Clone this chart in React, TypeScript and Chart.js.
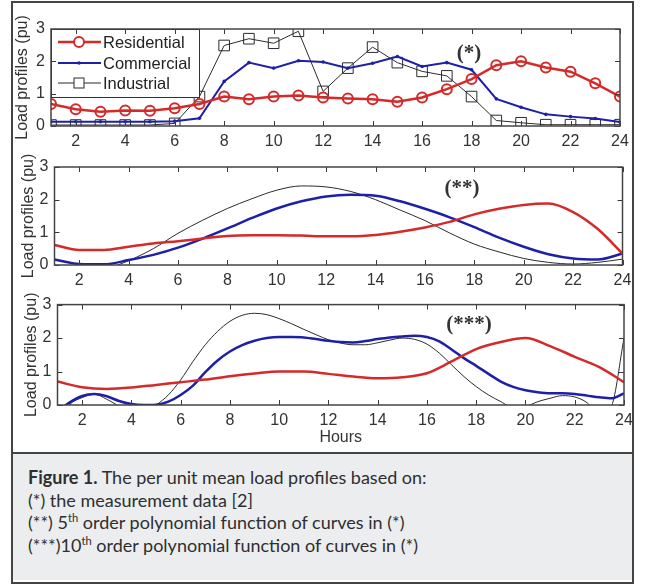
import React, { useEffect, useRef } from "react";
import { Chart, registerables } from "chart.js";

Chart.register(...registerables);

// ---------- data ----------
const HOURS = [1, 2, 3, 4, 5, 6, 7, 8, 9, 10, 11, 12, 13, 14, 15, 16, 17, 18, 19, 20, 21, 22, 23, 24];
const HALF_HOURS = [
  1, 1.5, 2, 2.5, 3, 3.5, 4, 4.5, 5, 5.5, 6, 6.5, 7, 7.5, 8, 8.5, 9, 9.5, 10, 10.5, 11, 11.5, 12, 12.5,
  13, 13.5, 14, 14.5, 15, 15.5, 16, 16.5, 17, 17.5, 18, 18.5, 19, 19.5, 20, 20.5, 21, 21.5, 22, 22.5, 23, 23.5, 24,
];
const X_TICKS = [2, 4, 6, 8, 10, 12, 14, 16, 18, 20, 22, 24];
const Y_TICKS = [0, 1, 2, 3];
const SERIES_NAMES = ["Residential", "Commercial", "Industrial"];
const PANEL_TAGS = ["(*)", "(**)", "(***)"];
const Y_TITLE = "Load profiles (pu)";
const X_TITLE = "Hours";

// (*) measurement data
const RES_MEAS = [0.68, 0.52, 0.44, 0.48, 0.47, 0.55, 0.68, 0.91, 0.83, 0.91, 0.94, 0.88, 0.85, 0.83, 0.75, 0.88, 1.14, 1.45, 1.88, 2.0, 1.81, 1.68, 1.32, 0.91];
const COM_MEAS = [0.13, 0.13, 0.13, 0.13, 0.13, 0.15, 0.24, 1.38, 1.96, 1.79, 2.02, 1.98, 1.79, 1.94, 2.15, 1.84, 1.96, 1.74, 0.84, 0.58, 0.36, 0.29, 0.23, 0.12];
const IND_MEAS = [0.03, 0.03, 0.03, 0.03, 0.03, 0.08, 0.91, 2.49, 2.7, 2.56, 2.93, 1.07, 1.79, 2.44, 1.96, 1.69, 1.55, 0.91, 0.17, 0.1, 0.04, 0.04, 0.04, 0.04];

// (**) 5th order polynomial fit
const RES_P5 = [0.61, 0.46, 0.46, 0.56, 0.66, 0.73, 0.81, 0.89, 0.91, 0.91, 0.9, 0.88, 0.88, 0.92, 1.02, 1.15, 1.32, 1.55, 1.72, 1.84, 1.88, 1.62, 1.1, 0.35];
const COM_P5 = [0.17, 0.03, 0.02, 0.15, 0.31, 0.53, 0.81, 1.12, 1.44, 1.73, 1.95, 2.1, 2.15, 2.12, 1.95, 1.72, 1.46, 1.16, 0.84, 0.56, 0.33, 0.2, 0.17, 0.35];
const IND_P5 = [-0.3, -0.35, -0.15, 0.13, 0.5, 0.97, 1.37, 1.73, 2.03, 2.29, 2.42, 2.39, 2.25, 2.0, 1.68, 1.36, 0.98, 0.64, 0.4, 0.2, 0.08, 0.03, 0.08, 0.18];

// (***) 10th order polynomial fit
const RES_P10 = [0.7, 0.53, 0.48, 0.52, 0.6, 0.68, 0.76, 0.86, 0.94, 1.0, 1.0, 0.93, 0.85, 0.8, 0.83, 0.95, 1.3, 1.67, 1.88, 2.0, 1.76, 1.44, 1.13, 0.68];
const COM_P10 = [
  -0.2, 0.08, 0.27, 0.33, 0.26, 0.12, 0.03, 0.0, 0.01, 0.1, 0.3, 0.58, 0.98, 1.33, 1.6, 1.79, 1.92, 2.0, 2.03, 2.03, 2.02, 1.97, 1.92, 1.88,
  1.87, 1.91, 1.97, 2.02, 2.05, 2.07, 2.03, 1.9, 1.66, 1.4, 1.17, 0.93, 0.7, 0.54, 0.44, 0.38, 0.35, 0.35, 0.33, 0.28, 0.23, 0.2, 0.35,
];
const IND_P10 = [
  -0.5, 0.02, 0.22, 0.32, 0.17, -0.05, -0.4, -0.4, -0.02, 0.3, 0.75, 1.3, 1.8, 2.2, 2.5, 2.68, 2.74, 2.7, 2.58, 2.43, 2.26, 2.1, 1.95, 1.85,
  1.8, 1.8, 1.86, 1.94, 2.0, 1.96, 1.82, 1.55, 1.2, 0.85, 0.55, 0.3, 0.1, -0.08, -0.05, 0.1, 0.2, 0.28, 0.24, 0.07, -0.3, -0.02, 2.0,
];

// ---------- styles ----------
const RED = "#d42a2a";
const BLUE = "#1f1fa8";
const BLACK = "#2b2b2b";
const AX_FONT = "Arial, 'Liberation Sans', sans-serif";
const TEXT_COLOR = "#333";

const pts = (xs: number[], ys: number[]) => xs.map((x, i) => ({ x, y: ys[i] }));

const framePlugin = {
  id: "matlabFrame",
  afterDatasetsDraw(chart: any) {
    const { ctx, chartArea, scales } = chart;
    const { left, right, top, bottom } = chartArea;
    const x = scales.x;
    const y = scales.y;
    ctx.save();
    ctx.strokeStyle = "#3a3a3a";
    ctx.lineWidth = 1;
    ctx.beginPath();
    X_TICKS.forEach((v) => {
      const px = Math.round(x.getPixelForValue(v)) + 0.5;
      ctx.moveTo(px, bottom);
      ctx.lineTo(px, bottom - 5);
      ctx.moveTo(px, top);
      ctx.lineTo(px, top + 5);
    });
    Y_TICKS.forEach((v) => {
      const py = Math.round(y.getPixelForValue(v)) + 0.5;
      ctx.moveTo(left, py);
      ctx.lineTo(left + 5, py);
      ctx.moveTo(right, py);
      ctx.lineTo(right - 5, py);
    });
    ctx.stroke();
    ctx.lineWidth = 1.5;
    ctx.strokeStyle = "#444";
    ctx.strokeRect(left, top, right - left, bottom - top);
    ctx.restore();
  },
};

const legendPlugin = {
  id: "boxLegend",
  afterDatasetsDraw(chart: any) {
    const { ctx, chartArea } = chart;
    const bx = chartArea.left;
    const by = chartArea.top;
    const bw = 148;
    const bh = 68;
    ctx.save();
    ctx.fillStyle = "#fff";
    ctx.fillRect(bx, by, bw, bh);
    ctx.strokeStyle = "#333";
    ctx.lineWidth = 1;
    ctx.strokeRect(bx + 0.5, by + 0.5, bw, bh);
    const rows = [13, 34, 54];
    chart.data.datasets.forEach((ds: any, i: number) => {
      const ry = by + rows[i];
      ctx.strokeStyle = ds.borderColor;
      ctx.lineWidth = ds.borderWidth;
      ctx.beginPath();
      ctx.moveTo(bx + 7, ry);
      ctx.lineTo(bx + 50, ry);
      ctx.stroke();
      const mx = bx + 28;
      if (i === 0) {
        ctx.lineWidth = 2;
        ctx.beginPath();
        ctx.arc(mx, ry, 5, 0, Math.PI * 2);
        ctx.fillStyle = "#fff";
        ctx.fill();
        ctx.stroke();
      } else if (i === 1) {
        ctx.fillStyle = ds.borderColor;
        ctx.beginPath();
        ctx.arc(mx, ry, 1.8, 0, Math.PI * 2);
        ctx.fill();
      } else {
        ctx.lineWidth = 1;
        ctx.fillStyle = "#fff";
        ctx.fillRect(mx - 5, ry - 5, 10, 10);
        ctx.strokeRect(mx - 5, ry - 5, 10, 10);
      }
      ctx.fillStyle = "#222";
      ctx.font = `16.5px ${AX_FONT}`;
      ctx.textBaseline = "middle";
      ctx.textAlign = "left";
      ctx.fillText(ds.label, bx + 52, ry + 1);
    });
    ctx.restore();
  },
};

type Rect = { x: number; y: number; w: number; h: number };
type Area = { l: number; t: number; r: number; b: number };

function buildConfig(rect: Rect, area: Area, datasets: any[], opts: { legend: boolean; xTitle: boolean; yTitlePad: number }) {
  const padTop = area.t - rect.y;
  const padRight = rect.x + rect.w - area.r;
  const yWidth = area.l - rect.x;
  const xHeight = rect.y + rect.h - area.b;
  return {
    type: "line",
    data: { datasets },
    options: {
      responsive: false,
      animation: false,
      devicePixelRatio: 1,
      layout: { padding: { top: padTop, right: padRight, left: 0, bottom: 0 } },
      plugins: { legend: { display: false }, tooltip: { enabled: false } },
      scales: {
        x: {
          type: "linear",
          min: 1,
          max: 24,
          grid: { display: false, drawTicks: false },
          border: { display: false },
          afterBuildTicks: (s: any) => {
            s.ticks = X_TICKS.map((v) => ({ value: v }));
          },
          afterFit: (s: any) => {
            s.height = xHeight;
          },
          ticks: { font: { family: AX_FONT, size: 16 }, color: TEXT_COLOR, padding: 6, maxRotation: 0, autoSkip: false },
          title: {
            display: opts.xTitle,
            text: X_TITLE,
            font: { family: AX_FONT, size: 16 },
            color: TEXT_COLOR,
            padding: { top: 0, bottom: 5 },
          },
        },
        y: {
          type: "linear",
          min: 0,
          max: 3,
          grid: { display: false, drawTicks: false },
          border: { display: false },
          afterBuildTicks: (s: any) => {
            s.ticks = Y_TICKS.map((v) => ({ value: v }));
          },
          afterFit: (s: any) => {
            s.width = yWidth;
          },
          ticks: { font: { family: AX_FONT, size: 16 }, color: TEXT_COLOR, padding: 6 },
          title: {
            display: true,
            text: Y_TITLE,
            font: { family: AX_FONT, size: 16 },
            color: TEXT_COLOR,
            padding: { top: opts.yTitlePad, bottom: 0 },
          },
        },
      },
    },
    plugins: opts.legend ? [legendPlugin, framePlugin] : [framePlugin],
  };
}

const smooth = (label: string, data: any[], color: string, width: number) => ({
  label,
  data,
  borderColor: color,
  borderWidth: width,
  pointRadius: 0,
  cubicInterpolationMode: "monotone",
  fill: false,
});

const PANELS = [
  {
    rect: { x: 13, y: 3, w: 627, h: 148 },
    area: { l: 51, t: 29, r: 620, b: 126 },
    opts: { legend: true, xTitle: false, yTitlePad: 0 },
    tag: { x: 469, y: 52 },
    datasets: () => [
      {
        label: SERIES_NAMES[0],
        data: pts(HOURS, RES_MEAS),
        borderColor: RED,
        borderWidth: 2.5,
        pointStyle: "circle",
        pointRadius: 5,
        pointBorderWidth: 2,
        pointBorderColor: RED,
        pointBackgroundColor: "rgba(255,255,255,0)",
        tension: 0,
      },
      {
        label: SERIES_NAMES[1],
        data: pts(HOURS, COM_MEAS),
        borderColor: BLUE,
        borderWidth: 2,
        pointStyle: "circle",
        pointRadius: 1.8,
        pointBorderWidth: 0,
        pointBackgroundColor: BLUE,
        tension: 0,
      },
      {
        label: SERIES_NAMES[2],
        data: pts(HOURS, IND_MEAS),
        borderColor: BLACK,
        borderWidth: 1,
        pointStyle: "rect",
        pointRadius: 7.5,
        pointBorderWidth: 1,
        pointBorderColor: BLACK,
        pointBackgroundColor: "rgba(255,255,255,0)",
        tension: 0,
      },
    ],
  },
  {
    rect: { x: 13, y: 151, w: 627, h: 138 },
    area: { l: 54.5, t: 167, r: 622.5, b: 265 },
    opts: { legend: false, xTitle: false, yTitlePad: 6 },
    tag: { x: 462, y: 187 },
    datasets: () => [
      smooth(SERIES_NAMES[0], pts(HOURS, RES_P5), RED, 2.5),
      smooth(SERIES_NAMES[1], pts(HOURS, COM_P5), BLUE, 2.5),
      smooth(SERIES_NAMES[2], pts(HOURS, IND_P5), BLACK, 1),
    ],
  },
  {
    rect: { x: 13, y: 289, w: 627, h: 163 },
    area: { l: 57.5, t: 304, r: 624, b: 405 },
    opts: { legend: false, xTitle: true, yTitlePad: 9 },
    tag: { x: 469, y: 323 },
    datasets: () => [
      smooth(SERIES_NAMES[0], pts(HOURS, RES_P10), RED, 2.5),
      smooth(SERIES_NAMES[1], pts(HALF_HOURS, COM_P10), BLUE, 2.5),
      smooth(SERIES_NAMES[2], pts(HALF_HOURS, IND_P10), BLACK, 1),
    ],
  },
];

function PanelChart({ index }: { index: number }) {
  const ref = useRef<HTMLCanvasElement | null>(null);
  const p = PANELS[index];
  useEffect(() => {
    if (!ref.current) return;
    const chart = new Chart(ref.current, buildConfig(p.rect, p.area, p.datasets(), p.opts) as any);
    return () => chart.destroy();
  }, []);
  return (
    <>
      <canvas
        ref={ref}
        width={p.rect.w}
        height={p.rect.h}
        style={{ position: "absolute", left: p.rect.x, top: p.rect.y, width: p.rect.w, height: p.rect.h }}
      />
      <span
        style={{
          position: "absolute",
          left: p.tag.x,
          top: p.tag.y,
          transform: "translate(-50%, -50%)",
          fontFamily: "'Liberation Serif', 'Times New Roman', serif",
          fontSize: 21,
          fontWeight: "bold",
          color: "#333",
          whiteSpace: "nowrap",
          lineHeight: 1,
        }}
      >
        {PANEL_TAGS[index]}
      </span>
    </>
  );
}

export default function App() {
  const supStyle: React.CSSProperties = { fontSize: "0.62em", verticalAlign: "super", lineHeight: 0 };
  return (
    <div style={{ position: "absolute", left: 0, top: 0, width: 645, height: 585, background: "#fff", overflow: "hidden" }}>
      <div
        style={{
          position: "absolute",
          left: 11,
          top: 1,
          width: 623,
          height: 583,
          border: "2px solid #444",
          boxSizing: "border-box",
          background: "#fff",
        }}
      />
      <div
        style={{
          position: "absolute",
          left: 13,
          top: 454,
          width: 619,
          height: 128,
          background: "#ebedef",
          borderTop: "2px solid #444",
          marginTop: -2,
          boxSizing: "border-box",
          paddingLeft: 15,
          paddingTop: 12,
          fontFamily: "Lato, 'Open Sans', sans-serif",
          fontSize: 18,
          lineHeight: "22.7px",
          color: "#2f2f2f",
        }}
      >
        <div>
          <b>Figure 1.</b> The per unit mean load profiles based on:
        </div>
        <div>(*) the measurement data [2]</div>
        <div>
          (**) 5<sup style={supStyle}>th</sup> order polynomial function of curves in (*)
        </div>
        <div>
          (***)10<sup style={supStyle}>th</sup> order polynomial function of curves in (*)
        </div>
      </div>
      <PanelChart index={0} />
      <PanelChart index={1} />
      <PanelChart index={2} />
    </div>
  );
}
